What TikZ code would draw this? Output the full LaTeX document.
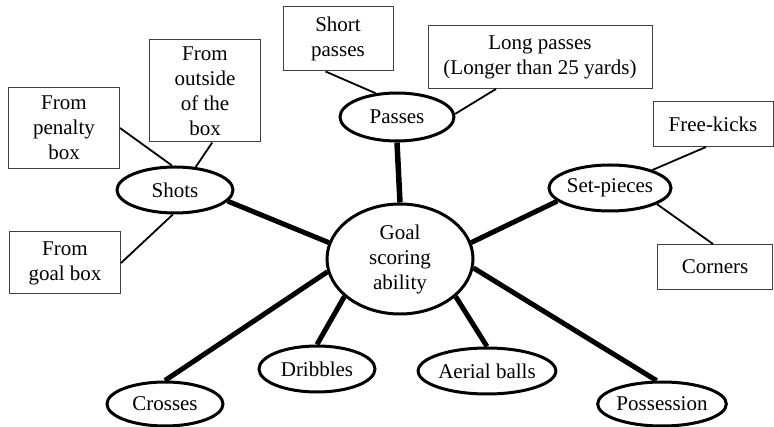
\documentclass[tikz,border=0pt]{standalone}
\usepackage{fontspec}
\setmainfont{Liberation Serif}
\usetikzlibrary{shapes.geometric}
\begin{document}
\begin{tikzpicture}[x=1pt,y=-1pt,
  every node/.style={font=\fontsize{21}{25}\selectfont, align=center, inner sep=0pt},
  oval/.style={ellipse, draw, line width=3pt, minimum width=116pt, minimum height=46pt},
  leaf/.style={rectangle, draw=black!75, line width=1pt},
  thin link/.style={line width=1.8pt},
  thick link/.style={line width=5pt}]
\useasboundingbox (0,0) rectangle (774,427);
% central node
\node[oval, minimum width=146pt, minimum height=110pt] (goal) at (400,259) {Goal\\scoring\\ability};
% second level
\node[oval, minimum width=114pt, minimum height=48pt] (passes) at (397,117) {Passes};
\node[oval] (shots) at (175,190) {Shots};
\node[oval] (setp) at (610,188) {Set-pieces};
\node[oval] (dribbles) at (317,369) {Dribbles};
\node[oval, minimum height=44pt] (crosses) at (165,404) {Crosses};
\node[oval, minimum width=118pt] (aerial) at (487,371) {Aerial balls};
\node[oval, minimum height=44pt] (poss) at (662,404) {Possession};
% leaves
\node[leaf, minimum width=110pt, minimum height=64pt] (short) at (338,39) {Short\\passes};
\node[leaf, minimum width=224pt, minimum height=63pt] (long) at (540,57) {Long passes\\(Longer than 25 yards)};
\node[leaf, minimum width=111pt, minimum height=81pt] (pen) at (64,128) {From\\penalty\\box};
\node[leaf, minimum width=111pt, minimum height=102pt] (out) at (205,91) {From\\outside\\of the\\box};
\node[leaf, minimum width=111pt, minimum height=62pt] (gbox) at (65,263) {From\\goal box};
\node[leaf, minimum width=120pt, minimum height=45pt] (free) at (713,124) {Free-kicks};
\node[leaf, minimum width=115pt, minimum height=45pt] (corn) at (715,267) {Corners};
% thick links
\draw[thick link, line width=5.5pt] (goal.north) -- (passes.south);
\draw[thick link] (goal.167) -- (shots.-12);
\draw[thick link] (goal.13) -- (setp.194);
\draw[thick link] (goal.190) -- (crosses.north);
\draw[thick link] (goal.214) -- (dribbles.north);
\draw[thick link] (goal.-34) -- (aerial.north);
\draw[thick link] (goal.-7) -- (poss.103);
% thin links
\draw[thin link] (short.-111) -- (passes.132);
\draw[thin link] (long.-144) -- (passes.3);
\draw[thin link] (pen.east) -- (shots.97);
\draw[thin link] (out.-82) -- (shots.48);
\draw[thin link] (gbox.east) -- (shots.-95);
\draw[thin link] (free.-107) -- (setp.23);
\draw[thin link] (corn.95) -- (setp.-19);
\end{tikzpicture}
\end{document}
